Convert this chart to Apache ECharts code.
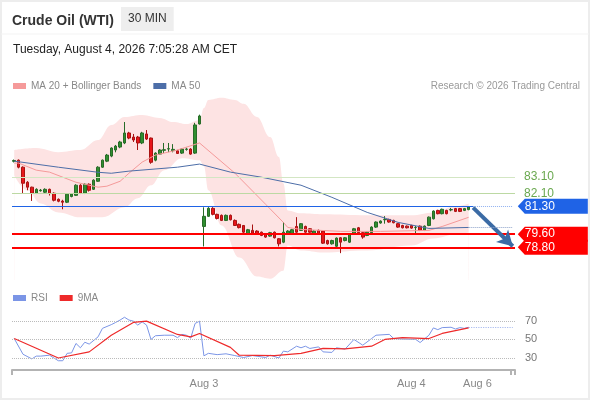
<!DOCTYPE html>
<html>
<head>
<meta charset="utf-8">
<title>Crude Oil (WTI) - 30 MIN</title>
<script src="https://cdn.jsdelivr.net/npm/echarts@6.0.0/dist/echarts.min.js"></script>
<style>
html, body { margin: 0; padding: 0; background: #fff; }
#chart { width: 590px; height: 400px; }
</style>
</head>
<body>
<div id="chart"></div>
<script>
// slots on the time axis (candles + empty room on the right for the projection)
var slotCount = 114;
var tickLabels = [[43, 'Aug 3'], [90, 'Aug 4'], [105, 'Aug 6']];

// 30 min candles: [open, close, low, high]
var candles = [
  [84.05, 84.10, 83.98, 84.16], [84.12, 83.69, 83.62, 84.16], [83.69, 82.71, 82.10, 83.74], [82.77, 82.47, 82.28, 82.84],
  [82.47, 82.10, 81.63, 82.50], [82.10, 82.34, 82.05, 82.40], [82.25, 82.29, 82.20, 82.36], [82.16, 82.34, 82.10, 82.40],
  [82.34, 82.10, 81.96, 82.38], [82.10, 81.67, 81.60, 82.15], [81.73, 81.61, 81.55, 81.78], [81.62, 81.55, 81.12, 81.70],
  [81.55, 82.04, 81.50, 82.10], [81.90, 82.05, 81.85, 82.10], [81.97, 82.59, 81.94, 82.65], [82.59, 82.10, 82.05, 82.65],
  [82.10, 82.65, 82.05, 82.70], [82.65, 82.28, 82.20, 82.70], [82.34, 82.90, 82.30, 82.95], [82.83, 83.69, 82.80, 83.75],
  [83.69, 84.12, 83.65, 84.16], [84.06, 84.43, 84.00, 84.50], [84.37, 84.86, 84.30, 84.90], [84.74, 84.98, 84.60, 85.05],
  [84.92, 85.23, 84.85, 85.30], [85.17, 85.78, 85.10, 86.45], [85.78, 85.47, 85.40, 85.85], [85.53, 85.35, 85.23, 85.72],
  [85.53, 85.17, 84.74, 85.60], [85.17, 85.78, 85.10, 85.85], [85.72, 85.41, 85.35, 85.96], [85.47, 83.99, 83.90, 85.50],
  [84.12, 84.55, 84.05, 84.60], [84.49, 84.74, 84.45, 84.80], [84.72, 84.76, 84.55, 85.17], [84.80, 84.82, 84.61, 85.17],
  [84.70, 84.78, 84.60, 85.10], [84.69, 84.53, 84.50, 84.75], [84.55, 84.80, 84.50, 84.85], [84.78, 84.80, 84.70, 84.88],
  [84.80, 84.49, 84.45, 84.85], [84.55, 86.27, 84.50, 86.40], [86.33, 86.82, 86.30, 86.90], [80.07, 80.69, 78.85, 81.24],
  [80.69, 81.18, 80.65, 81.25], [81.18, 80.81, 80.75, 81.25], [80.81, 80.56, 80.50, 80.85], [80.75, 80.44, 80.40, 80.80],
  [80.44, 80.75, 80.40, 80.80], [80.75, 80.48, 80.44, 80.80], [80.44, 80.13, 80.10, 80.50], [80.20, 80.00, 79.95, 80.25],
  [80.13, 79.72, 79.65, 80.15], [79.62, 79.87, 79.58, 79.92], [79.83, 79.66, 79.60, 80.19], [79.79, 79.62, 79.58, 79.84],
  [79.72, 79.52, 79.48, 79.76], [79.62, 79.42, 79.38, 79.66], [79.48, 79.69, 79.44, 79.74], [79.72, 79.38, 79.34, 79.76],
  [79.32, 79.01, 78.85, 79.36], [79.11, 79.72, 79.05, 80.34], [79.62, 79.79, 79.58, 79.84], [79.62, 79.87, 79.58, 79.92],
  [80.07, 79.72, 79.68, 80.64], [79.83, 80.24, 79.80, 80.28], [80.07, 79.72, 79.68, 80.12], [79.93, 79.72, 79.68, 79.97],
  [79.62, 79.79, 79.58, 79.84], [79.83, 79.62, 79.58, 79.88], [79.79, 79.05, 79.00, 79.84], [79.21, 79.01, 78.96, 79.26],
  [79.01, 79.21, 78.96, 79.26], [78.86, 79.36, 78.80, 79.40], [79.38, 79.11, 78.44, 79.42], [79.21, 79.38, 79.16, 79.42],
  [79.11, 79.62, 79.06, 79.66], [79.62, 79.93, 79.58, 79.98], [79.99, 79.69, 79.64, 80.04], [79.69, 79.42, 79.32, 79.74],
  [79.52, 79.72, 79.48, 79.76], [79.69, 80.03, 79.64, 80.08], [80.03, 80.34, 79.98, 80.38], [80.28, 80.40, 80.24, 80.44],
  [80.48, 80.50, 80.24, 80.70], [80.50, 80.34, 80.30, 80.54], [80.44, 80.30, 80.26, 80.48], [80.24, 80.03, 79.99, 80.28],
  [80.13, 79.99, 79.95, 80.17], [80.09, 79.99, 79.95, 80.13], [80.13, 79.97, 79.93, 80.17], [80.00, 80.01, 79.62, 80.10],
  [80.09, 79.83, 79.79, 80.13], [79.83, 80.09, 79.79, 80.13], [80.13, 80.64, 80.09, 80.68], [80.54, 81.01, 80.50, 81.05],
  [81.05, 80.85, 80.81, 81.09], [80.85, 81.12, 80.81, 81.16], [81.05, 80.85, 80.81, 81.09], [81.08, 81.10, 81.00, 81.20],
  [81.16, 80.99, 80.95, 81.20], [81.16, 80.99, 80.95, 81.20], [81.05, 81.16, 81.01, 81.20], [81.10, 81.26, 81.06, 81.30]
];

// indicator lines, as [slot, value]
var bandUpper = [[0, 84.74], [5, 84.86], [10, 84.61], [15, 84.74], [19, 85.35], [22, 86.27], [25, 86.76], [29, 86.88],
  [33, 86.70], [36, 86.45], [39, 86.33], [42, 86.58], [43, 87.31], [44, 87.80], [47, 87.93], [50, 87.80], [52, 87.56],
  [55, 86.76], [58, 85.53], [60, 84.31], [61, 82.71], [62, 81.05], [65, 80.87], [70, 80.81], [80, 80.75], [90, 80.75],
  [95, 80.93], [100, 81.30], [103, 81.48]];
var bandLower = [[0, 83.20], [3, 82.28], [6, 81.48], [10, 80.93], [15, 80.63], [20, 80.63], [25, 81.24], [28, 81.79],
  [31, 82.59], [34, 83.51], [38, 84.24], [42, 84.12], [43, 83.75], [44, 82.28], [47, 80.13], [51, 78.17], [55, 77.01],
  [58, 76.88], [61, 77.37], [62, 78.91], [65, 78.60], [70, 78.48], [80, 78.60], [90, 78.91], [95, 79.34], [100, 79.58],
  [103, 79.70]];
var ma20 = [[0, 83.94], [1, 83.94], [5, 83.51], [8, 83.39], [14, 82.77], [19, 82.47], [21, 82.53], [24, 82.83], [26, 83.32],
  [29, 84.00], [32, 84.43], [37, 84.74], [42, 85.17], [50, 83.33], [57, 81.42], [61, 80.32], [62, 80.01], [65, 79.89],
  [74, 79.77], [83, 79.77], [94, 79.83], [97, 80.07], [103, 80.63]];
var ma50 = [[0, 84.06], [10, 83.69], [19, 83.38], [22, 83.32], [26, 83.45], [37, 83.69], [42, 83.88], [49, 83.39],
  [56, 83.08], [65, 82.59], [72, 81.85], [80, 80.93], [87, 80.32], [94, 79.95], [103, 80.01]];

// RSI panel
var rsi = [[0, 51], [2, 34], [4, 29], [5, 32], [6, 32], [8, 33], [9, 30], [10, 27], [11, 27], [12, 35], [13, 35.5],
  [14, 45.7], [15, 41], [16, 47], [17, 45], [19, 52.8], [20, 62], [22, 66], [23, 68.4], [24, 71], [25, 74], [26, 71],
  [27, 69.8], [28, 65.5], [29, 69], [30, 65.5], [31, 50], [32, 54], [34, 54.6], [36, 54.6], [37, 52], [38, 55.5],
  [39, 54.6], [40, 51.4], [41, 67.3], [42, 69.8], [43, 32.3], [44, 35], [46, 33.6], [48, 34.5], [50, 32.6], [52, 30.5],
  [54, 32.6], [57, 30.5], [58, 33], [60, 30], [61, 37.4], [62, 36.6], [64, 42.7], [65, 41], [66, 42.7], [67, 40.3],
  [69, 42], [70, 36.6], [72, 36], [73, 41], [75, 39.6], [77, 50], [79, 43.8], [81, 51], [82, 54.6], [85, 55.5], [86, 51],
  [88, 50.4], [91, 50], [92, 46.7], [94, 54.6], [95, 62.5], [96, 60.6], [97, 62.8], [99, 63.2], [100, 61.3], [101, 62.8],
  [102, 62], [103, 63.2]];
var rsiMa9 = [[0, 51], [10, 30], [17, 36.6], [22, 54.6], [27, 68.4], [30, 69.8], [37, 55.4], [40, 52.8], [42, 56.5],
  [49, 41.4], [51, 33], [59, 32.6], [65, 35], [70, 40.3], [75, 39.8], [81, 42.7], [84, 50], [88, 52], [94, 51],
  [97, 56.5], [103, 62.5]];
var rsiLevels = [30, 50, 70];

// key levels
var resistances = [83.1, 82.1];
var pivot = 81.3;
var supports = [79.6, 78.8];

var categories = [];
for (var i = 0; i < slotCount; i++) categories.push(String(i));
var labelAt = {};
tickLabels.forEach(function (t) { labelAt[t[0]] = t[1]; });

var lastSlot = slotCount - 1;
var lastCandle = candles.length - 1;
var font = "'Liberation Sans', Arial, sans-serif";
var tagPath = 'path://M0,7L7,0L70,0L70,14L7,14Z';

var chart = echarts.init(document.getElementById('chart'));

var levelLines = [];
resistances.forEach(function (v, k) {
  levelLines.push({
    yAxis: v,
    lineStyle: { color: k === 0 ? '#d3e6c3' : '#bcd9a3', width: 1, type: 'solid' },
    label: { show: true, position: 'end', distance: 9, color: '#6aa84f', fontSize: 12,
      formatter: function (p) { return p.value.toFixed(2); } }
  });
});
levelLines.push([{ coord: [0, pivot], x: 12 }, { coord: [lastCandle + 1, pivot] }]);
levelLines.push([
  { coord: [lastCandle + 1, pivot], lineStyle: { color: '#8fb0f0', type: 'dotted', width: 1 } },
  { coord: [lastSlot, pivot] }
]);
supports.forEach(function (v) {
  levelLines.push({ yAxis: v, lineStyle: { color: '#ff0000', width: 2.2, type: 'solid' } });
});
// projection arrow from the pivot down to the second support
levelLines.push([
  { coord: [lastCandle + 1, pivot - 0.08], lineStyle: { color: '#3b6ba5', width: 4, type: 'solid' } },
  { coord: [lastSlot, supports[1] + 0.06], symbol: 'arrow', symbolSize: [13, 15] }
]);

var tags = [{ coord: [lastSlot, pivot], value: pivot, itemStyle: { color: '#1f63e6' } }];
supports.forEach(function (v) {
  tags.push({ coord: [lastSlot, v], value: v, itemStyle: { color: '#ff0000' } });
});

option = {
  animation: false,
  textStyle: { fontFamily: font },
  graphic: [
    { type: 'rect', z: -10, shape: { x: 1, y: 1, width: 588, height: 398 },
      style: { fill: 'none', stroke: '#ededed', lineWidth: 2 } },
    { type: 'line', z: -10, shape: { x1: 1, y1: 34, x2: 589, y2: 34 },
      style: { stroke: '#f3f3f3', lineWidth: 1 } }
  ],
  title: [
    { text: 'Crude Oil (WTI)', left: 7, top: 9,
      textStyle: { fontSize: 14, fontWeight: 'bold', color: '#333', fontFamily: font } },
    { text: '30 MIN', left: 121, top: 7, padding: [6, 7], backgroundColor: '#eeeeee',
      textStyle: { fontSize: 12, fontWeight: 'normal', color: '#333', fontFamily: font } },
    { text: 'Tuesday, August 4, 2026 7:05:28 AM CET', left: 8, top: 39,
      textStyle: { fontSize: 12, fontWeight: 'normal', color: '#222', fontFamily: font } },
    { text: 'Research \u00a9 2026 Trading Central', right: 5, top: 76,
      textStyle: { fontSize: 10, fontWeight: 'normal', color: '#999', fontFamily: font } }
  ],
  legend: [
    { left: 8, top: 76, itemWidth: 13, itemHeight: 6, itemGap: 12, selectedMode: false,
      textStyle: { color: '#888', fontSize: 10 },
      data: [{ name: 'MA 20 + Bollinger Bands', icon: 'rect' }, { name: 'MA 50', icon: 'rect' }] },
    { left: 8, top: 288, itemWidth: 13, itemHeight: 6, itemGap: 12, selectedMode: false,
      textStyle: { color: '#888', fontSize: 10 },
      data: [{ name: 'RSI', icon: 'rect' }, { name: '9MA', icon: 'rect' }] }
  ],
  grid: [
    { left: 12, width: 503, top: 95, height: 185 },
    { left: 12, width: 503, top: 311.7, height: 58.3 }
  ],
  xAxis: [
    { gridIndex: 0, type: 'category', data: categories, boundaryGap: true, show: false },
    { gridIndex: 1, type: 'category', data: categories, boundaryGap: true,
      axisLine: { lineStyle: { color: '#b3b3b3', width: 2 } },
      axisTick: { show: true, length: 5, lineStyle: { color: '#b3b3b3', width: 2 },
        interval: function (idx) { return idx === 0 || idx === lastSlot; } },
      axisLabel: { interval: 0, margin: 8, color: '#888', fontSize: 11,
        formatter: function (v, idx) { return labelAt[idx] || ''; } } }
  ],
  yAxis: [
    { gridIndex: 0, type: 'value', min: 76.8, max: 88.1, show: false },
    { gridIndex: 1, type: 'value', min: 17, max: 80, show: false }
  ],
  series: [
    { name: 'band upper', type: 'line', xAxisIndex: 0, yAxisIndex: 0, data: bandUpper, z: 1, silent: true,
      smooth: 0.4, smoothMonotone: 'x', symbol: 'none', lineStyle: { width: 0 },
      areaStyle: { color: '#fde3e3', opacity: 1, origin: 'start' } },
    { name: 'band lower', type: 'line', xAxisIndex: 0, yAxisIndex: 0, data: bandLower, z: 1, silent: true,
      smooth: 0.4, smoothMonotone: 'x', symbol: 'none', lineStyle: { width: 0 },
      areaStyle: { color: '#ffffff', opacity: 1, origin: 'start' } },
    { name: 'Crude Oil', type: 'candlestick', xAxisIndex: 0, yAxisIndex: 0, data: candles, z: 3,
      barWidth: 3,
      itemStyle: { color: '#2f8f2f', color0: '#e8161b', borderColor: '#286b28', borderColor0: '#a81212', borderWidth: 1 },
      markLine: { silent: true, symbol: ['none', 'none'], label: { show: false },
        lineStyle: { color: '#1f63e6', width: 1.2, type: 'solid' }, data: levelLines },
      markPoint: { silent: true, symbol: tagPath, symbolSize: [70, 15], symbolOffset: [40, 0],
        label: { show: true, color: '#fff', fontSize: 12, offset: [-13, 0],
          formatter: function (p) { return p.value.toFixed(2); } },
        data: tags } },
    { name: 'MA 20 + Bollinger Bands', type: 'line', xAxisIndex: 0, yAxisIndex: 0, data: ma20, z: 4,
      symbol: 'none', color: '#f59a9a', lineStyle: { width: 1, color: '#f59a9a' } },
    { name: 'MA 50', type: 'line', xAxisIndex: 0, yAxisIndex: 0, data: ma50, z: 4,
      symbol: 'none', color: '#4d6ea8', lineStyle: { width: 1, color: '#4d6ea8' },
      markLine: { silent: true, symbol: ['none', 'none'], label: { show: false },
        lineStyle: { color: '#8aa0c8', type: 'dotted', width: 1 },
        data: [[{ coord: [lastCandle, ma50[ma50.length - 1][1]] }, { coord: [lastSlot, ma50[ma50.length - 1][1]] }]] } },
    { name: 'RSI', type: 'line', xAxisIndex: 1, yAxisIndex: 1, data: rsi, z: 4,
      symbol: 'none', color: '#7b95e6', lineStyle: { width: 1, color: '#7b95e6' },
      markLine: { silent: true, symbol: ['none', 'none'],
        lineStyle: { color: '#bbbbbb', type: 'dotted', width: 1 },
        label: { show: true, position: 'end', distance: 10, color: '#777', fontSize: 11 },
        data: rsiLevels.map(function (v) { return { yAxis: v }; }).concat([[
          { coord: [lastCandle, rsi[rsi.length - 1][1]], label: { show: false },
            lineStyle: { color: '#a9bbef', type: 'dotted', width: 1.2 } },
          { coord: [lastSlot, rsi[rsi.length - 1][1]] }
        ]]) } },
    { name: '9MA', type: 'line', xAxisIndex: 1, yAxisIndex: 1, data: rsiMa9, z: 5,
      symbol: 'none', color: '#ee2a2a', lineStyle: { width: 1.2, color: '#ee2a2a' } }
  ]
};

chart.setOption(option);
</script>
</body>
</html>
